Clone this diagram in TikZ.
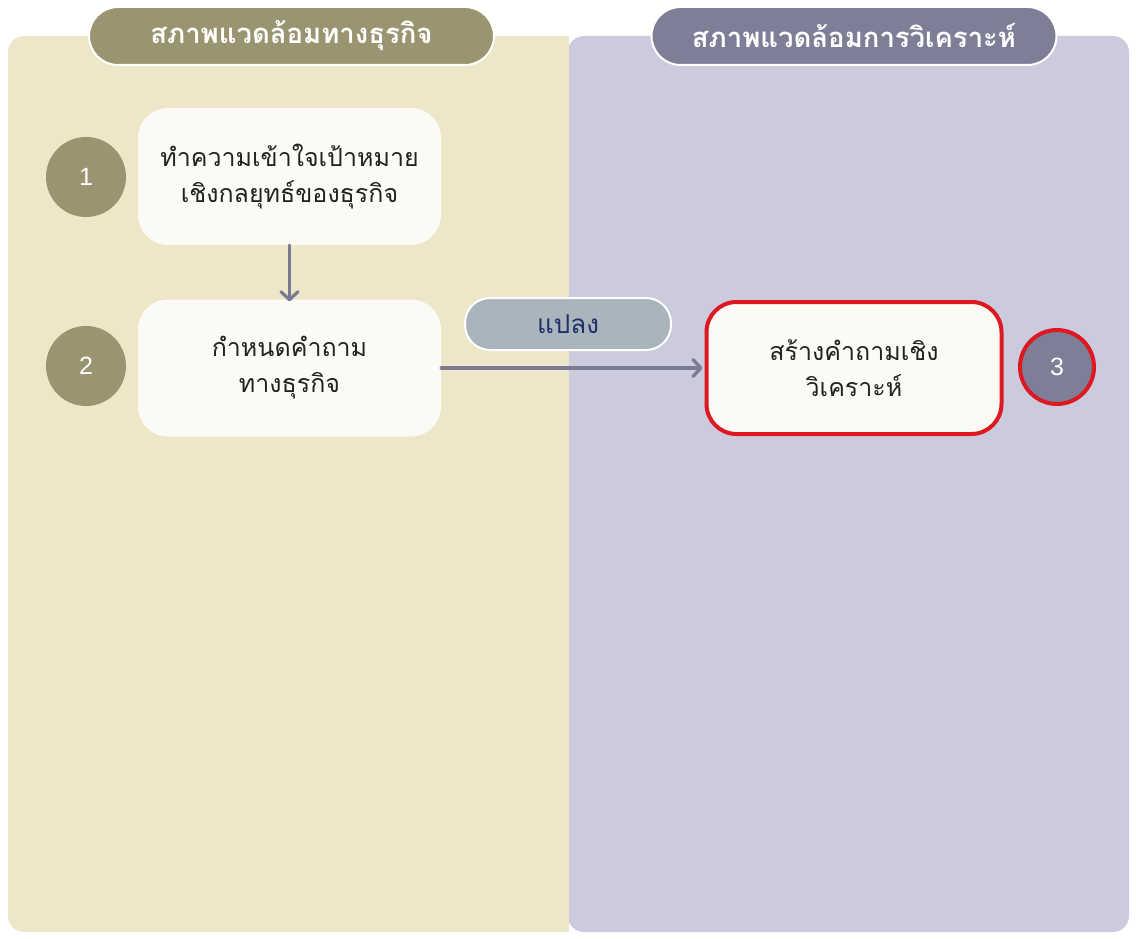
\documentclass[tikz,border=0pt]{standalone}
\usepackage{fontspec}
\setmainfont{Liberation Sans}
\newfontfamily\thaifont[Script=Thai]{Loma}
\usetikzlibrary{arrows.meta,shapes.geometric}
\definecolor{panelL}{HTML}{EDE6C8}
\definecolor{panelR}{HTML}{CCCBDD}
\definecolor{olive}{HTML}{9B9470}
\definecolor{slate}{HTML}{7E7E97}
\definecolor{boxfill}{HTML}{FCFAF4}
\definecolor{pillfill}{HTML}{A9B4BC}
\definecolor{navy}{HTML}{1F2F6B}
\definecolor{redline}{HTML}{DD1820}
\definecolor{arrowc}{HTML}{7A7A92}
\definecolor{txt}{HTML}{222222}
\tikzset{
  panel/.style={rounded corners=16pt},
  header/.style={draw=white, line width=2pt, rounded corners=29pt, minimum width=405pt, minimum height=58pt, text=white, font=\thaifont\bfseries\fontsize{27.5}{30}\selectfont, inner sep=0pt},
  stepbox/.style={fill=boxfill, rounded corners=30pt, minimum width=303pt, minimum height=137pt, align=center, text=txt, font=\thaifont\fontsize{25}{36}\selectfont, inner sep=0pt},
  numc/.style={circle, minimum size=80pt, inner sep=0pt, text=white, font=\fontsize{25}{30}\selectfont},
  conn/.style={draw=arrowc, line width=3.2pt, line cap=round, -{Straight Barb[length=8pt,width=17pt,line cap=round,line join=round]}},
}
\begin{document}
\begin{tikzpicture}[x=1pt,y=-1pt]
\useasboundingbox (0,0) rectangle (1136,939);
\fill[white] (0,0) rectangle (1136,939);
% panels
\fill[panelL, panel] (8,36) rectangle (569,932);
\fill[panelR, panel] (568,36) rectangle (1129,932);
\fill[panelL] (555,36) rectangle (568.5,932);
% headers
\node[header, fill=olive] (hL) at (291.5,36) {สภาพแวดล้อมทางธุรกิจ};
\node[header, fill=slate] (hR) at (854,36) {สภาพแวดล้อมการวิเคราะห์};
% step boxes
\node[stepbox] (b1) at (289.5,176.5) {ทำความเข้าใจเป้าหมาย\\เชิงกลยุทธ์ของธุรกิจ};
\node[stepbox] (b2) at (289.5,368) {กำหนดคำถาม\\ทางธุรกิจ};
\node[stepbox, draw=redline, line width=4pt, minimum width=295pt, minimum height=132pt] (b3) at (854,368) {สร้างคำถามเชิง\\วิเคราะห์};
% number circles
\node[numc, fill=olive] (n1) at (86,177) {1};
\node[numc, fill=olive] (n2) at (86,366) {2};
\node[numc, fill=slate, draw=redline, line width=4pt, minimum size=74pt] (n3) at (1057,367) {3};
% connectors
\draw[conn] (b1.south) -- ([yshift=-2pt]b2.north);
\draw[conn] (b2.east) -- ([xshift=-2pt]b3.west);
% label pill
\node[draw=white, line width=2pt, fill=pillfill, rounded corners=25pt, minimum width=206pt, minimum height=52pt, text=navy, font=\thaifont\fontsize{26}{30}\selectfont, inner sep=0pt] (lbl) at (568,324) {แปลง};
\end{tikzpicture}
\end{document}
